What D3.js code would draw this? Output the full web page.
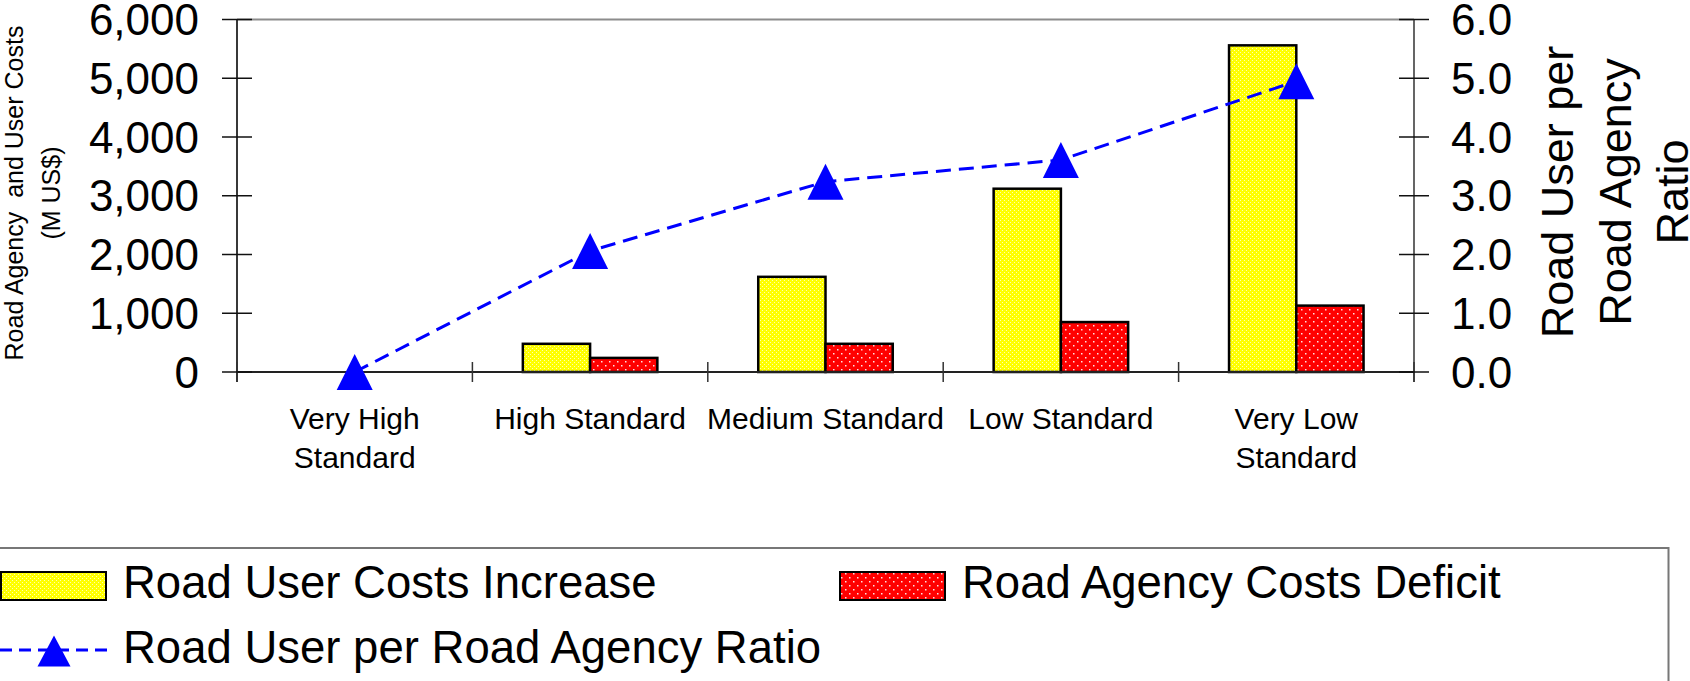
<!DOCTYPE html>
<html>
<head>
<meta charset="utf-8">
<script src="https://cdn.jsdelivr.net/npm/d3@7"></script>
<style>
  html, body { margin: 0; padding: 0; background: #fff; }
  svg { display: block; font-family: "Liberation Sans", Arial, sans-serif; }
</style>
</head>
<body>
<svg id="chart" width="1690" height="681"></svg>
<script>
// Road standard scenarios
const categories = [
  ["Very High", "Standard"],
  ["High Standard"],
  ["Medium Standard"],
  ["Low Standard"],
  ["Very Low", "Standard"]
];
// Costs in M US$
const roadUserCostsIncrease = [0, 480, 1620, 3120, 5560];
const roadAgencyCostsDeficit = [0, 240, 480, 850, 1130];
// Road user per road agency ratio
const userPerAgencyRatio = [0, 2.06, 3.24, 3.61, 4.95];

const leftTicks = [0, 1000, 2000, 3000, 4000, 5000, 6000];
const rightTicks = [0, 1, 2, 3, 4, 5, 6];

const svg = d3.select("#chart");

const plot = { left: 237, right: 1414, top: 19.5, bottom: 372 };
const catKeys = categories.map((c, i) => i);

const x = d3.scaleBand().domain(catKeys).range([plot.left, plot.right]).paddingInner(0).paddingOuter(0);
const y = d3.scaleLinear().domain([0, 6000]).range([plot.bottom, plot.top]);
const y2 = d3.scaleLinear().domain([0, 6]).range([plot.bottom, plot.top]);

// fill patterns
const defs = svg.append("defs");
const pY = defs.append("pattern").attr("id", "patYellow").attr("patternUnits", "userSpaceOnUse")
  .attr("width", 4).attr("height", 4);
pY.append("rect").attr("width", 4).attr("height", 4).attr("fill", "#ffff00");
pY.append("rect").attr("x", 0).attr("y", 0).attr("width", 1).attr("height", 1).attr("fill", "#ffffb0");
pY.append("rect").attr("x", 2).attr("y", 2).attr("width", 1).attr("height", 1).attr("fill", "#ffffb0");

const pR = defs.append("pattern").attr("id", "patRed").attr("patternUnits", "userSpaceOnUse")
  .attr("width", 8).attr("height", 8);
pR.append("rect").attr("width", 8).attr("height", 8).attr("fill", "#ff0000");
pR.append("rect").attr("x", 1).attr("y", 1).attr("width", 1.5).attr("height", 1.5).attr("fill", "#ffe0e0");
pR.append("rect").attr("x", 5).attr("y", 5).attr("width", 1.5).attr("height", 1.5).attr("fill", "#ffe0e0");

// plot frame (top edge)
svg.append("line").attr("x1", plot.left).attr("x2", plot.right).attr("y1", plot.top).attr("y2", plot.top)
  .attr("stroke", "#8c8c8c").attr("stroke-width", 2);

// bars
const band = x.bandwidth();
const barW = band / 3.5;
const barG = svg.append("g");
const series = [
  { values: roadUserCostsIncrease, fill: "url(#patYellow)", offset: -1 },
  { values: roadAgencyCostsDeficit, fill: "url(#patRed)", offset: 0 }
];
series.forEach(s => {
  barG.selectAll(null).data(s.values.map((v, i) => ({ v, i })).filter(d => d.v > 0)).enter()
    .append("rect")
    .attr("x", d => x(d.i) + band / 2 + s.offset * barW)
    .attr("width", barW)
    .attr("y", d => y(d.v))
    .attr("height", d => y(0) - y(d.v))
    .attr("fill", s.fill)
    .attr("stroke", "#000")
    .attr("stroke-width", 2.5);
});

// axes lines
svg.append("line").attr("x1", plot.left).attr("x2", plot.left).attr("y1", plot.top).attr("y2", plot.bottom + 10)
  .attr("stroke", "#222").attr("stroke-width", 1.8);
svg.append("line").attr("x1", plot.right).attr("x2", plot.right).attr("y1", plot.top).attr("y2", plot.bottom + 10)
  .attr("stroke", "#555").attr("stroke-width", 1.8);
svg.append("line").attr("x1", plot.left).attr("x2", plot.right).attr("y1", plot.bottom).attr("y2", plot.bottom)
  .attr("stroke", "#222").attr("stroke-width", 1.8);

// category boundary ticks
const bounds = catKeys.map(k => x(k)).concat([plot.right]);
svg.append("g").selectAll("line").data(bounds).enter().append("line")
  .attr("x1", d => d).attr("x2", d => d)
  .attr("y1", plot.bottom - 10).attr("y2", plot.bottom + 10)
  .attr("stroke", "#333").attr("stroke-width", 1.5);

// left value ticks and labels
const fmt = d3.format(",");
const gl = svg.append("g");
gl.selectAll("line").data(leftTicks).enter().append("line")
  .attr("x1", plot.left - 15).attr("x2", plot.left + 15)
  .attr("y1", d => y(d)).attr("y2", d => y(d))
  .attr("stroke", "#111").attr("stroke-width", 1.5);
gl.selectAll("text").data(leftTicks).enter().append("text")
  .attr("x", 199).attr("y", d => y(d) + 15.5)
  .attr("text-anchor", "end").attr("font-size", 44).attr("fill", "#000")
  .text(d => fmt(d));

// right ratio ticks and labels
const gr = svg.append("g");
gr.selectAll("line").data(rightTicks).enter().append("line")
  .attr("x1", plot.right - 15).attr("x2", plot.right + 15)
  .attr("y1", d => y2(d)).attr("y2", d => y2(d))
  .attr("stroke", "#111").attr("stroke-width", 1.5);
gr.selectAll("text").data(rightTicks).enter().append("text")
  .attr("x", 1451).attr("y", d => y2(d) + 15.5)
  .attr("text-anchor", "start").attr("font-size", 44).attr("fill", "#000")
  .text(d => d3.format(".1f")(d));

// category labels
const gc = svg.append("g");
categories.forEach((lines, i) => {
  lines.forEach((ln, j) => {
    gc.append("text")
      .attr("x", x(i) + band / 2).attr("y", 429 + j * 39)
      .attr("text-anchor", "middle").attr("font-size", 30).attr("fill", "#000")
      .text(ln);
  });
});

// axis titles
const leftTitle = ["Road Agency  and User Costs", "(M US$)"];
leftTitle.forEach((t, j) => {
  svg.append("text")
    .attr("transform", `translate(${23 + j * 37},193) rotate(-90)`)
    .attr("text-anchor", "middle").attr("font-size", 25).attr("fill", "#000")
    .style("white-space", "pre")
    .text(t);
});
const rightTitle = ["Road User per", "Road Agency", "Ratio"];
rightTitle.forEach((t, j) => {
  svg.append("text")
    .attr("transform", `translate(${1573 + j * 57.5},192) rotate(-90)`)
    .attr("text-anchor", "middle").attr("font-size", 45).attr("fill", "#000")
    .text(t);
});

// ratio line with triangle markers
const lineGen = d3.line().x((d, i) => x(i) + band / 2).y(d => y2(d));
svg.append("path").datum(userPerAgencyRatio)
  .attr("d", lineGen)
  .attr("fill", "none").attr("stroke", "#0000ff").attr("stroke-width", 3)
  .attr("stroke-dasharray", "15,8");
const tri = (cx, cy, w, h) => `M${cx},${cy - h / 2}L${cx + w / 2},${cy + h / 2}L${cx - w / 2},${cy + h / 2}Z`;
svg.append("g").selectAll("path").data(userPerAgencyRatio).enter().append("path")
  .attr("d", (d, i) => tri(x(i) + band / 2, y2(d), 36, 36))
  .attr("fill", "#0000ff");

// legend
const lg = svg.append("g");
lg.append("rect").attr("x", -5).attr("y", 548).attr("width", 1673.5).attr("height", 150)
  .attr("fill", "#fff").attr("stroke", "#777").attr("stroke-width", 2);
lg.append("rect").attr("x", 1).attr("y", 572).attr("width", 105).attr("height", 28)
  .attr("fill", "url(#patYellow)").attr("stroke", "#000").attr("stroke-width", 2);
lg.append("text").attr("x", 123).attr("y", 598).attr("font-size", 45.5).attr("fill", "#000")
  .text("Road User Costs Increase");
lg.append("rect").attr("x", 840).attr("y", 572).attr("width", 105).attr("height", 28)
  .attr("fill", "url(#patRed)").attr("stroke", "#000").attr("stroke-width", 2);
lg.append("text").attr("x", 962).attr("y", 598).attr("font-size", 45.5).attr("fill", "#000")
  .text("Road Agency Costs Deficit");
lg.append("line").attr("x1", 0).attr("x2", 108).attr("y1", 650).attr("y2", 650)
  .attr("stroke", "#0000ff").attr("stroke-width", 3).attr("stroke-dasharray", "12,7");
lg.append("path").attr("d", tri(54, 651, 33, 31)).attr("fill", "#0000ff");
lg.append("text").attr("x", 123).attr("y", 663).attr("font-size", 45.5).attr("fill", "#000")
  .text("Road User per Road Agency Ratio");
</script>
</body>
</html>
